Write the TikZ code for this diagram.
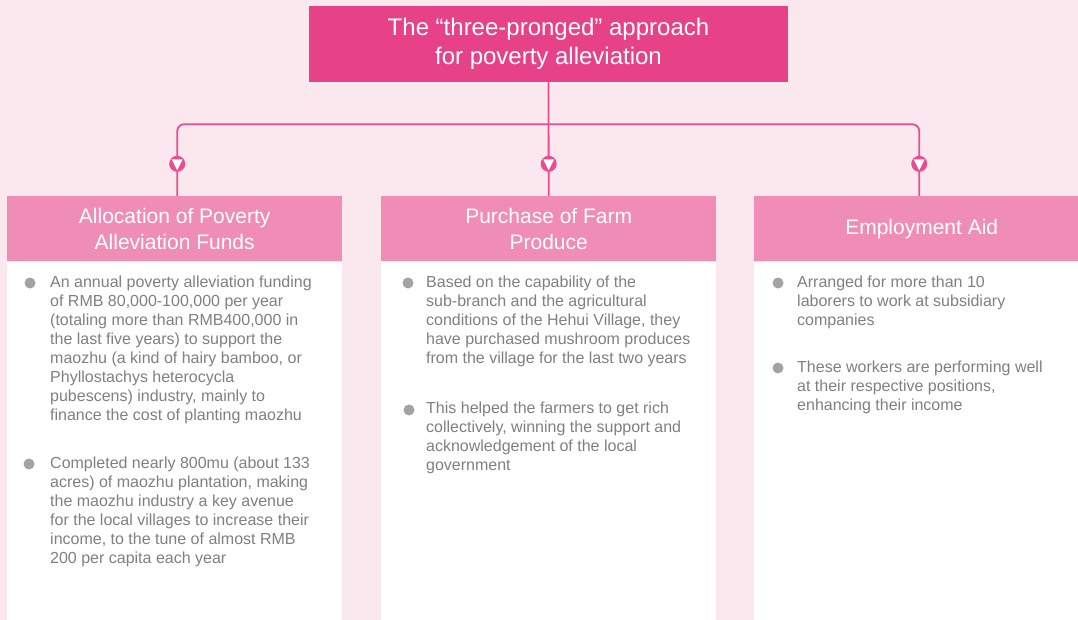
\documentclass[tikz,border=0pt]{standalone}
\usepackage{fontspec}
\setmainfont{Liberation Sans}
\usetikzlibrary{positioning}
\definecolor{bgpink}{HTML}{FBE8EE}
\definecolor{titlepink}{HTML}{E74288}
\definecolor{headpink}{HTML}{F08DB6}
\definecolor{linepink}{HTML}{EA4D8F}
\definecolor{dotgray}{HTML}{A3A3A3}
\definecolor{textgray}{HTML}{808080}
\tikzset{titlebox/.style={fill=titlepink, text=white, inner sep=0pt,
minimum width=479pt, minimum height=76pt, align=center,
font=\fontsize{24}{29}\selectfont},
headbox/.style={fill=headpink, text=white, inner sep=0pt,
minimum width=335pt, minimum height=65pt, align=center,
font=\fontsize{21}{26}\selectfont},
bodybox/.style={fill=white, inner sep=0pt, minimum width=335pt,
minimum height=359pt},
itemtext/.style={text=textgray, inner sep=0pt, anchor=north west,
align=left, font=\fontsize{16}{19}\selectfont},
itemdot/.style={circle, fill=dotgray, minimum size=11pt, inner sep=0pt},
link/.style={draw=linepink, line width=1.8pt, rounded corners=7pt},
marker/.style={circle, fill=linepink, minimum size=16pt, inner sep=0pt,
path picture={\fill[white]
([shift={(-5.5pt,4.5pt)}]path picture bounding box.center) --
([shift={(5.5pt,4.5pt)}]path picture bounding box.center) --
([shift={(0pt,-6.5pt)}]path picture bounding box.center) -- cycle;}}}
\begin{document}
\begin{tikzpicture}[x=1pt, y=-1pt]

\fill[bgpink] (0,0) rectangle (1078,620);
\useasboundingbox (0,0) rectangle (1078,620);

% top box
\node[titlebox] (title) at (548.5,44)
{The ``three-pronged'' approach\\for poverty alleviation};

% column heads and bodies
\node[headbox, anchor=north west] (alloc) at (7,196)
{Allocation of Poverty\\Alleviation Funds};
\node[headbox, anchor=north west] (purchase) at (381,196)
{Purchase of Farm\\Produce};
\node[headbox, anchor=north west] (employ) at (754,196)
{Employment Aid};
\node[bodybox, below=0pt of alloc] (allocbody) {};
\node[bodybox, below=0pt of purchase] (purchasebody) {};
\node[bodybox, below=0pt of employ] (employbody) {};

% connectors
\coordinate (fork) at ([yshift=-42pt]title.south);
\coordinate (allocin) at ([xshift=2.5pt]alloc.north);
\coordinate (employin) at ([xshift=-2.5pt]employ.north);
\draw[link] (allocin) |- (fork) -| (employin);
\draw[link] (title.south) -- (purchase.north);
\node[marker, above=24pt of allocin] (allocmark) {};
\node[marker, above=24pt of purchase] (purchasemark) {};
\node[marker, above=24pt of employin] (employmark) {};

% items
\node[itemdot] (allocdota) at (30,283) {};
\node[itemtext] (alloca) at (50,276)
{An annual poverty alleviation funding\\
of RMB 80,000-100,000 per year\\
(totaling more than RMB400,000 in\\
the last five years) to support the\\
maozhu (a kind of hairy bamboo, or\\
Phyllostachys heterocycla\\
pubescens) industry, mainly to\\
finance the cost of planting maozhu};
\node[itemdot] (allocdotb) at (29,464) {};
\node[itemtext] (allocb) at (50,457)
{Completed nearly 800mu (about 133\\
acres) of maozhu plantation, making\\
the maozhu industry a key avenue\\
for the local villages to increase their\\
income, to the tune of almost RMB\\
200 per capita each year};

\node[itemdot] (purchasedota) at (408,283) {};
\node[itemtext] (purchasea) at (426,276)
{Based on the capability of the\\
sub-branch and the agricultural\\
conditions of the Hehui Village, they\\
have purchased mushroom produces\\
from the village for the last two years};
\node[itemdot] (purchasedotb) at (409,410) {};
\node[itemtext] (purchaseb) at (426,402)
{This helped the farmers to get rich\\
collectively, winning the support and\\
acknowledgement of the local\\
government};

\node[itemdot] (employdota) at (778,283) {};
\node[itemtext] (employa) at (797,276)
{Arranged for more than 10\\
laborers to work at subsidiary\\
companies};
\node[itemdot] (employdotb) at (778,368) {};
\node[itemtext] (employb) at (797,361)
{These workers are performing well\\
at their respective positions,\\
enhancing their income};
\end{tikzpicture}
\end{document}
